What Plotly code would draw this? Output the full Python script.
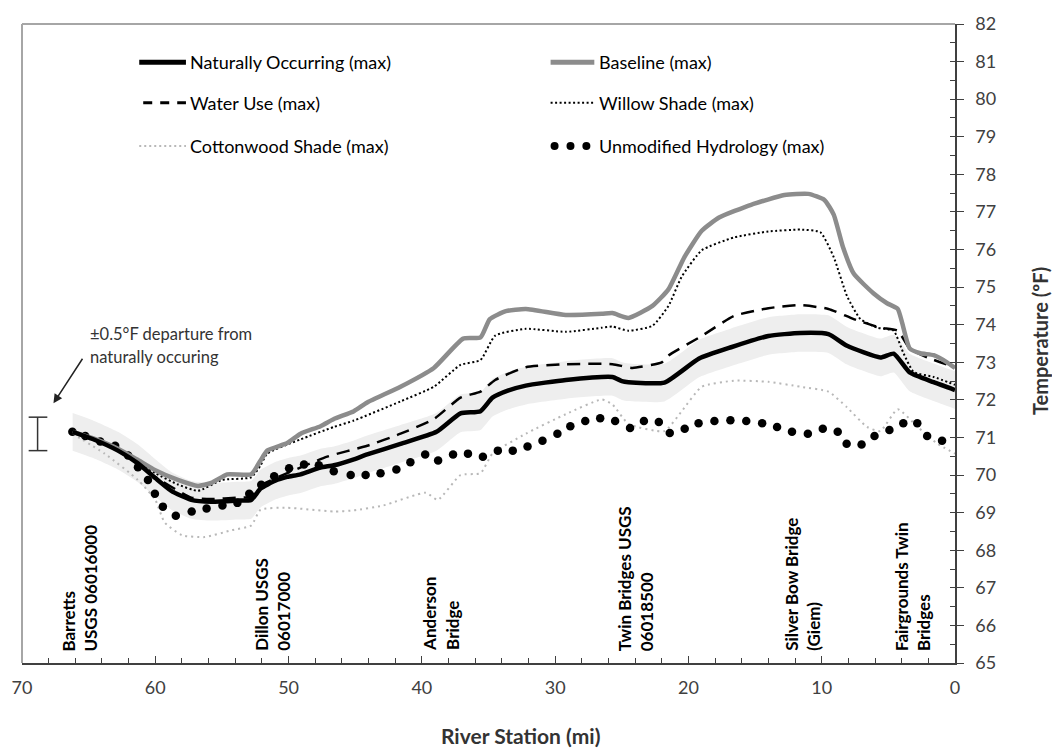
import plotly.graph_objects as go
import numpy as np

# River station (miles upstream of the mouth) and modelled maximum temperature (°F)
natural_mi = [66.2, 64.7, 62.8, 61.3, 60.0, 58.8, 57.3, 55.8, 53.8, 52.8,
              52.1, 51.0, 50.1, 49.1, 47.6, 46.6, 45.1, 44.1, 41.6, 38.9,
              37.1, 35.6, 34.7, 33.5, 32.2, 29.2, 25.7, 25.0, 24.5, 21.8,
              19.2, 16.8, 14.0, 11.6, 9.5, 8.1, 5.6, 4.6, 3.4, 1.6, 0.0]
natural_f = [71.15, 70.96, 70.65, 70.31, 69.92, 69.58, 69.34, 69.29, 69.32, 69.34,
             69.64, 69.85, 69.95, 70.02, 70.2, 70.26, 70.42, 70.55, 70.83, 71.15,
             71.64, 71.70, 72.06, 72.25, 72.38, 72.53, 72.61, 72.5, 72.47, 72.46,
             73.1, 73.4, 73.7, 73.78, 73.75, 73.44, 73.13, 73.23, 72.73, 72.47, 72.26]

baseline_mi = [66.2, 64.7, 62.8, 61.3, 60.0, 58.3, 56.8, 55.8, 54.6, 52.8,
               52.1, 51.6, 50.1, 49.1, 47.6, 46.6, 45.1, 44.1, 41.6, 39.1,
               36.9, 35.6, 34.9, 33.7, 32.2, 29.2, 26.5, 25.7, 24.5,
               22.7, 21.5, 20.3, 19.0, 17.7, 15.3, 12.8, 11.0, 9.8, 9.1,
               8.4, 7.6, 6.1, 5.1, 4.3, 3.4, 2.6, 1.6, 0.6, 0.0]
baseline_f = [71.15, 70.98, 70.70, 70.40, 70.13, 69.87, 69.71, 69.79, 70.02, 70.02,
              70.39, 70.65, 70.85, 71.1, 71.3, 71.49, 71.7, 71.93, 72.35, 72.85,
              73.63, 73.66, 74.15, 74.36, 74.42, 74.26, 74.29, 74.31, 74.18,
              74.5, 74.94, 75.8, 76.5, 76.85, 77.19, 77.45, 77.48, 77.32, 76.93,
              76.06, 75.36, 74.83, 74.57, 74.42, 73.37, 73.24, 73.19, 73.0, 72.85]

water_mi = [66.2, 62.8, 60.0, 57.3, 55.8, 53.8, 52.8, 52.1, 50.1, 47.1,
            44.1, 41.6, 39.1, 37.1, 35.6, 34.5, 32.2, 29.2, 25.7, 24.2,
            22.0, 21.5, 19.0, 16.6, 14.0, 11.6, 9.5, 7.6, 5.6, 4.3,
            3.4, 2.1, 0.0]
water_f = [71.15, 70.67, 69.95, 69.4, 69.36, 69.4, 69.42, 69.72, 70.05, 70.49,
           70.78, 71.1, 71.49, 72.06, 72.22, 72.53, 72.87, 72.95, 72.95, 72.85,
           73.0, 73.18, 73.7, 74.23, 74.44, 74.52, 74.42, 74.15, 73.92, 73.84,
           73.37, 73.13, 72.87]

willow_mi = [66.2, 62.8, 60.0, 58.3, 56.8, 55.0, 52.8, 52.1, 51.6, 49.1,
             46.6, 45.1, 41.6, 39.1, 37.1, 35.6, 34.5, 32.2, 29.2, 26.5,
             25.7, 24.5, 22.7, 21.5, 20.5, 19.0, 16.6, 14.0, 11.6, 10.1,
             9.1, 8.1, 7.1, 5.8, 4.6, 3.9, 3.1, 1.6, 0.0]
willow_f = [71.15, 70.68, 70.05, 69.75, 69.58, 69.87, 69.94, 70.26, 70.57, 70.95,
            71.28, 71.45, 71.96, 72.35, 72.93, 73.06, 73.71, 73.89, 73.81, 73.92,
            73.95, 73.84, 73.97, 74.5, 75.28, 75.98, 76.32, 76.48, 76.53, 76.46,
            75.8, 74.76, 74.15, 73.92, 73.84, 73.27, 72.74, 72.61, 72.4]

cotton_mi = [66.2, 63.8, 61.3, 60.0, 59.3, 58.0, 56.3, 54.3, 52.8, 52.1,
             50.1, 46.6, 45.1, 42.9, 39.7, 38.8, 37.1, 35.6, 34.7, 32.2,
             29.2, 26.5, 25.7, 24.5, 21.8, 20.5, 19.0, 16.6, 14.0, 11.6,
             9.5, 8.1, 6.6, 5.6, 4.3, 2.8, 1.3, 0.0]
cotton_f = [71.1, 70.57, 69.87, 69.34, 68.74, 68.4, 68.35, 68.53, 68.66, 69.08,
            69.13, 69.03, 69.06, 69.19, 69.53, 69.34, 70.0, 70.05, 70.57, 71.1,
            71.62, 72.01, 71.88, 71.36, 71.17, 71.7, 72.35, 72.51, 72.48, 72.35,
            72.22, 71.8, 71.28, 71.17, 71.75, 71.28, 70.83, 70.57]

unmod_mi = [66.22, 65.25, 64.13, 63.01, 62.04, 61.30, 60.55, 60.03, 59.43, 58.46,
            57.27, 56.15, 54.96, 53.84, 52.95, 52.05, 51.08, 49.96, 48.84, 47.73,
            46.61, 45.34, 44.22, 43.10, 41.91, 40.86, 39.75, 38.78, 37.66, 36.54,
            35.42, 34.30, 33.18, 32.07, 30.95, 29.83, 28.86, 27.74, 26.62, 25.50,
            24.38, 23.34, 22.22, 21.40, 20.28, 19.24, 18.05, 16.85, 15.66, 14.47,
            13.35, 12.23, 11.04, 9.92, 8.80, 8.13, 7.01, 6.04, 4.92, 3.88,
            2.83, 2.09, 0.97]
unmod_f = [71.15, 71.04, 70.89, 70.78, 70.52, 70.21, 69.87, 69.50, 69.16, 68.92,
           69.03, 69.11, 69.19, 69.26, 69.50, 69.74, 69.97, 70.18, 70.28, 70.26,
           70.10, 70.00, 70.00, 70.05, 70.15, 70.34, 70.55, 70.39, 70.55, 70.57,
           70.49, 70.65, 70.65, 70.76, 70.91, 71.10, 71.30, 71.44, 71.51, 71.44,
           71.25, 71.44, 71.41, 71.12, 71.23, 71.38, 71.44, 71.46, 71.44, 71.38,
           71.28, 71.15, 71.10, 71.23, 71.15, 70.83, 70.81, 71.04, 71.20, 71.38,
           71.38, 71.04, 70.91]

# Tolerance band around the naturally occurring condition (°F)
departure = 0.5

# Landmarks along the river (two-line vertical labels) and their river station
site_line1 = ["Barretts", "Dillon USGS", "Anderson", "Twin Bridges USGS",
              "Silver Bow Bridge", "Fairgrounds Twin"]
site_line2 = ["USGS 06016000", "06017000", "Bridge", "06018500", "(Giem)", "Bridges"]
site_mi = [65.66, 51.16, 38.59, 23.97, 11.4, 3.2]

FONT = "Lato"
DARK = "#404040"
GREY_LINE = "#8c8c8c"
LIGHT_DOT = "#b8b8b8"
BAND = "#eeeeee"

nat = np.array(natural_f)
fig = go.Figure()

# shaded ±0.5 °F band
fig.add_trace(go.Scatter(x=natural_mi, y=nat + departure, mode="lines",
                         line=dict(width=0, shape="spline", smoothing=0.5),
                         showlegend=False, hoverinfo="skip"))
fig.add_trace(go.Scatter(x=natural_mi, y=nat - departure, mode="lines",
                         line=dict(width=0, shape="spline", smoothing=0.5),
                         fill="tonexty", fillcolor=BAND,
                         showlegend=False, hoverinfo="skip"))

fig.add_trace(go.Scatter(x=cotton_mi, y=cotton_f, mode="lines", name="Cottonwood Shade (max)",
                         line=dict(color=LIGHT_DOT, width=2, dash="2px,4px",
                                   shape="spline", smoothing=0.5)))
fig.add_trace(go.Scatter(x=unmod_mi, y=unmod_f, mode="markers", name="Unmodified Hydrology (max)",
                         marker=dict(color="black", size=8.5, line=dict(width=0))))
fig.add_trace(go.Scatter(x=willow_mi, y=willow_f, mode="lines", name="Willow Shade (max)",
                         line=dict(color="black", width=2, dash="2px,2.5px",
                                   shape="spline", smoothing=0.5)))
fig.add_trace(go.Scatter(x=water_mi, y=water_f, mode="lines", name="Water Use (max)",
                         line=dict(color="black", width=2.5, dash="13px,8px",
                                   shape="spline", smoothing=0.5)))
fig.add_trace(go.Scatter(x=baseline_mi, y=baseline_f, mode="lines", name="Baseline (max)",
                         line=dict(color=GREY_LINE, width=4.5, shape="spline", smoothing=0.5)))
fig.add_trace(go.Scatter(x=natural_mi, y=natural_f, mode="lines", name="Naturally Occurring (max)",
                         line=dict(color="black", width=4.5, shape="spline", smoothing=0.5)))
# carrier for the overlaid tick axis
fig.add_trace(go.Scatter(x=[None], y=[None], yaxis="y2", showlegend=False, hoverinfo="skip"))

shapes = []
annotations = []

# plot-area frame (top and left edges)
shapes.append(dict(type="line", xref="paper", yref="paper", x0=0, x1=1, y0=1, y1=1,
                   line=dict(color="#a6a6a6", width=2)))
shapes.append(dict(type="line", xref="paper", yref="paper", x0=0, x1=0, y0=0, y1=1,
                   line=dict(color="#a6a6a6", width=2)))

# legend: two columns, three rows (positions in figure pixels)
PX_W, PX_L, PX_H, PX_B = 939.0, 16.0, 650.0, 663.0
def px_x(px):
    return (px - PX_L) / PX_W
def px_y(py):
    return (PX_B - py) / PX_H

legend_rows = [52, 93, 137]
legend_items = [
    ("Naturally Occurring (max)", 0, 0, dict(color="black", width=5), None),
    ("Water Use (max)", 0, 1, dict(color="black", width=3, dash="9px,8px"), None),
    ("Cottonwood Shade (max)", 0, 2, dict(color=LIGHT_DOT, width=2, dash="2px,3px"), None),
    ("Baseline (max)", 1, 0, dict(color=GREY_LINE, width=5), None),
    ("Willow Shade (max)", 1, 1, dict(color="black", width=2, dash="2px,2.5px"), None),
    ("Unmodified Hydrology (max)", 1, 2, None, "dots"),
]
col_sym = [(134, 181), (548, 592)]
col_text = [183, 595]
for label, col, row, line, kind in legend_items:
    yy = px_y(legend_rows[row])
    x0, x1 = col_sym[col]
    if kind == "dots":
        for cx in (552, 568, 584):
            shapes.append(dict(type="circle", xref="paper", yref="paper",
                               xsizemode="pixel", ysizemode="pixel",
                               xanchor=px_x(cx), yanchor=yy,
                               x0=-4, x1=4, y0=-4, y1=4,
                               fillcolor="black", line=dict(width=0)))
    else:
        if col == 0 and row == 1:
            x0 = 138
        shapes.append(dict(type="line", xref="paper", yref="paper",
                           x0=px_x(x0), x1=px_x(x1), y0=yy, y1=yy, line=line))
    annotations.append(dict(xref="paper", yref="paper", x=px_x(col_text[col]), y=yy,
                            xanchor="left", yanchor="middle", showarrow=False,
                            text=label, font=dict(family=FONT, size=18, color="black")))

# vertical landmark labels
for m, l1, l2 in zip(site_mi, site_line1, site_line2):
    annotations.append(dict(x=m, y=65.26, xref="x", yref="y", xanchor="center", yanchor="bottom",
                            textangle=-90, align="left", showarrow=False,
                            text=f"<b>{l1}</b><br><b>{l2}</b>",
                            font=dict(family=FONT, size=17, color="black")))

# ±0.5 °F note with arrow and error-bar glyph
annotations.append(dict(x=65.05, y=73.74, xref="x", yref="y", xanchor="left", yanchor="middle",
                        showarrow=False, text="±0.5°F departure from",
                        font=dict(family=FONT, size=16.5, color="#333333")))
annotations.append(dict(x=65.05, y=73.13, xref="x", yref="y", xanchor="left", yanchor="middle",
                        showarrow=False, text="naturally occuring",
                        font=dict(family=FONT, size=16.5, color="#333333")))
annotations.append(dict(x=67.64, y=71.91, xref="x", yref="y", ax=30, ay=-46,
                        showarrow=True, arrowhead=2, arrowsize=1.2, arrowwidth=1.5,
                        arrowcolor="#222222", text="", standoff=0))
bar_lo, bar_hi = 70.65, 71.54
shapes.append(dict(type="line", xref="x", yref="y", x0=68.83, x1=68.83, y0=bar_lo, y1=bar_hi,
                   line=dict(color="#333333", width=1.5)))
for yb in (bar_lo, bar_hi):
    shapes.append(dict(type="line", xref="x", yref="y", x0=69.5, x1=68.1, y0=yb, y1=yb,
                       line=dict(color="#333333", width=1.5)))

# axis titles
annotations.append(dict(xref="paper", yref="paper", x=px_x(518), y=px_y(737),
                        xanchor="center", yanchor="middle", showarrow=False,
                        text="<b>River Station (mi)</b>",
                        font=dict(family=FONT, size=21, color="#333333")))
annotations.append(dict(xref="paper", yref="paper", x=px_x(1040), y=px_y(335),
                        xanchor="center", yanchor="middle", showarrow=False, textangle=-90,
                        text="<b>Temperature (ºF)</b>",
                        font=dict(family=FONT, size=20, color="#333333")))

fig.update_layout(
    width=1052, height=750,
    margin=dict(l=16, r=97, t=13, b=87),
    paper_bgcolor="white", plot_bgcolor="white",
    showlegend=False,
    shapes=shapes, annotations=annotations,
    xaxis=dict(range=[70, 0], dtick=10, tick0=0, showgrid=False, zeroline=False,
               showline=True, linecolor=DARK, linewidth=1.5,
               ticks="inside", ticklen=7, tickwidth=1.2, tickcolor=DARK,
               minor=dict(dtick=2, ticks="inside", ticklen=5, tickwidth=1.2,
                          tickcolor=DARK, showgrid=False),
               tickfont=dict(family=FONT, size=18, color=DARK), ticklabelstandoff=8),
    yaxis=dict(range=[65, 82], dtick=1, side="right", showgrid=False, zeroline=False,
               showline=True, linecolor=DARK, linewidth=1.5,
               ticks="outside", ticklen=7, tickwidth=1.2, tickcolor=DARK,
               minor=dict(dtick=0.5, ticks="inside", ticklen=5, tickwidth=1.2,
                          tickcolor=DARK, showgrid=False),
               tickfont=dict(family=FONT, size=18, color=DARK), ticklabelstandoff=8),
    yaxis2=dict(range=[65, 82], dtick=1, side="right", overlaying="y", showgrid=False,
                zeroline=False, showline=False, showticklabels=False,
                ticks="inside", ticklen=5, tickwidth=1.2, tickcolor=DARK),
)

fig.write_html("out.html")
